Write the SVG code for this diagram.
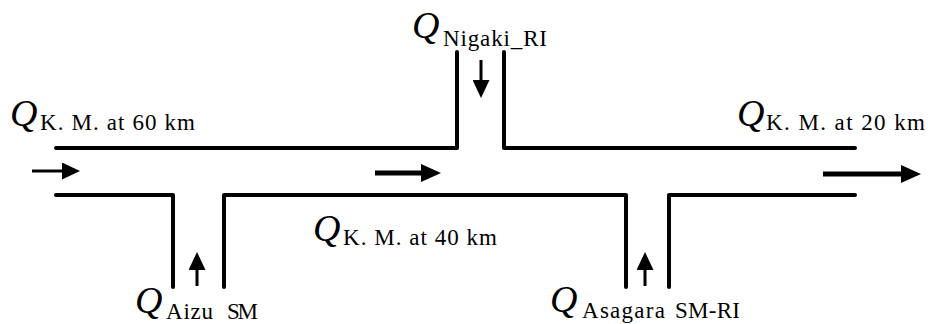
<svg xmlns="http://www.w3.org/2000/svg" width="928" height="324" viewBox="0 0 928 324">
<defs>
<marker id="ah" viewBox="0 0 18 17" refX="1" refY="8.5" markerWidth="18" markerHeight="17" markerUnits="userSpaceOnUse" orient="auto">
<path d="M0,0 L18,8.5 L0,17 Z" fill="#000"/>
</marker>
<marker id="ahb" viewBox="0 0 20 18" refX="1" refY="9" markerWidth="20" markerHeight="18" markerUnits="userSpaceOnUse" orient="auto">
<path d="M0,0 L20,9 L0,18 Z" fill="#000"/>
</marker>
<style>
.w{fill:none;stroke:#000;stroke-width:4;stroke-linecap:round;stroke-linejoin:round}
.a{fill:none;stroke:#000;stroke-width:3;marker-end:url(#ah)}
.b{fill:none;stroke:#000;stroke-width:5;marker-end:url(#ahb)}
text{fill:#000}
.q{font-style:italic;font-size:38px}
.s{font-size:23px}
</style>
</defs>
<g id="channel">
<path class="w" d="M56,148 H457 V52"/>
<path class="w" d="M504,52 V148 H855"/>
<path class="w" d="M56,195 H173 V287"/>
<path class="w" d="M224,287 V195 H626 V287"/>
<path class="w" d="M669,287 V195 H855"/>
</g>
<g id="connectors">
<line class="a" x1="32" y1="171" x2="63" y2="171"/>
<line class="b" x1="375" y1="173" x2="422" y2="173"/>
<line class="b" x1="823" y1="174" x2="902" y2="174"/>
<line class="a" x1="481" y1="60" x2="481" y2="81"/>
<line class="a" x1="197" y1="286" x2="197" y2="269"/>
<line class="a" x1="645" y1="286" x2="645" y2="269"/>
</g>
<g font-family="'Liberation Serif', 'Times New Roman', 'DejaVu Serif', serif">
<g id="label-km60">
<text class="q" x="10" y="126">Q</text>
<text class="s" x="40" y="130" textLength="155">K. M. at 60 km</text>
</g>
<g id="label-nigaki">
<text class="q" x="412" y="38">Q</text>
<text class="s" x="443" y="46" textLength="104">Nigaki_RI</text>
</g>
<g id="label-km20">
<text class="q" x="737" y="126">Q</text>
<text class="s" x="766" y="130" textLength="159">K. M. at 20 km</text>
</g>
<g id="label-km40">
<text class="q" x="313" y="241">Q</text>
<text class="s" x="343" y="245" textLength="154">K. M. at 40 km</text>
</g>
<g id="label-aizu">
<text class="q" x="135" y="313">Q</text>
<text class="s" x="166" y="319" textLength="47">Aizu</text>
<text class="s" x="227" y="319" textLength="31">SM</text>
</g>
<g id="label-asagara">
<text class="q" x="550" y="312">Q</text>
<text class="s" x="582" y="318" textLength="83">Asagara</text>
<text class="s" x="675" y="318" textLength="65">SM-RI</text>
</g>
</g>
</svg>
